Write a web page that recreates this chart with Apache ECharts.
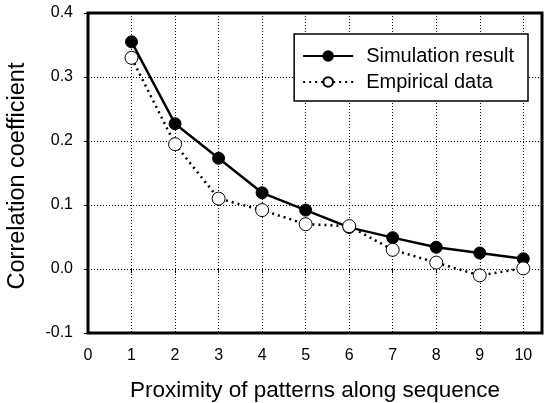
<!DOCTYPE html>
<html><head><meta charset="utf-8">
<script src="https://cdn.jsdelivr.net/npm/echarts@6/dist/echarts.min.js"></script>
<style>html,body{margin:0;padding:0;background:#fff}#c{width:545px;height:403px}</style>
</head><body><div id="c"></div>
<script>
var categories = [1,2,3,4,5,6,7,8,9,10];
var simulation = [0.355,0.227,0.173,0.119,0.092,0.065,0.049,0.034,0.025,0.016];
var empirical = [0.330,0.195,0.110,0.092,0.070,0.067,0.030,0.010,-0.010,0.001];
var yTicks = [-0.1,0.0,0.1,0.2,0.3,0.4];
var xTicks = [0,1,2,3,4,5,6,7,8,9,10];

var font = 'Liberation Sans, Arial, sans-serif';
var chart = echarts.init(document.getElementById('c'));
function pairs(v){return categories.map(function(c,i){return [c,v[i]];});}
chart.setOption({
  animation:false,
  backgroundColor:'#fff',
  grid:{left:88,top:13,right:3,bottom:70,show:true,borderColor:'#000',borderWidth:3,
        containLabel:false,outerBoundsMode:'none'},
  legend:{
    data:['Simulation result','Empirical data'],
    orient:'vertical',right:17,top:34,
    itemWidth:50,itemHeight:12,itemGap:6,
    padding:[12,14,9,8],
    borderColor:'#000',borderWidth:1.5,backgroundColor:'#fff',
    textStyle:{fontFamily:font,fontSize:20,color:'#000',padding:[0,0,0,8]}
  },
  xAxis:{
    type:'value',min:0,max:10.43,interval:1,
    name:'Proximity of patterns along sequence',nameLocation:'middle',nameGap:46,
    nameTextStyle:{fontFamily:font,fontSize:22.5,color:'#000'},
    axisLine:{show:false},
    axisTick:{show:true,length:4,lineStyle:{color:'#000',width:1}},
    axisLabel:{fontFamily:font,fontSize:16,color:'#000',margin:15,showMaxLabel:false,
      formatter:function(v){return xTicks.indexOf(v)>=0?String(v):'';}},
    splitLine:{show:true,lineStyle:{color:'#000',type:[1,2],width:1}}
  },
  yAxis:{
    type:'value',min:-0.1,max:0.4,interval:0.1,
    name:'Correlation coefficient',nameLocation:'middle',nameGap:58,
    nameTextStyle:{fontFamily:font,fontSize:23.5,color:'#000',padding:[0,6,0,0]},
    axisLine:{show:false},
    axisTick:{show:true,length:4,lineStyle:{color:'#000',width:1}},
    axisLabel:{fontFamily:font,fontSize:16,color:'#000',margin:15,
      formatter:function(v){var r=Math.round(v*10)/10;return yTicks.indexOf(r)>=0?r.toFixed(1):'';}},
    splitLine:{show:true,lineStyle:{color:'#000',type:[1,2],width:1}}
  },
  series:[
    {name:'Simulation result',type:'line',data:pairs(simulation),z:2,
     symbol:'circle',symbolSize:12,
     lineStyle:{color:'#000',width:2.5,type:'solid'},
     itemStyle:{color:'#000',borderColor:'#000',borderWidth:1}},
    {name:'Empirical data',type:'line',data:pairs(empirical),z:3,
     symbol:'circle',symbolSize:13,
     lineStyle:{color:'#000',width:2.5,type:[2,4]},
     itemStyle:{color:'#fff',borderColor:'#000',borderWidth:1}}
  ]
});
</script></body></html>
